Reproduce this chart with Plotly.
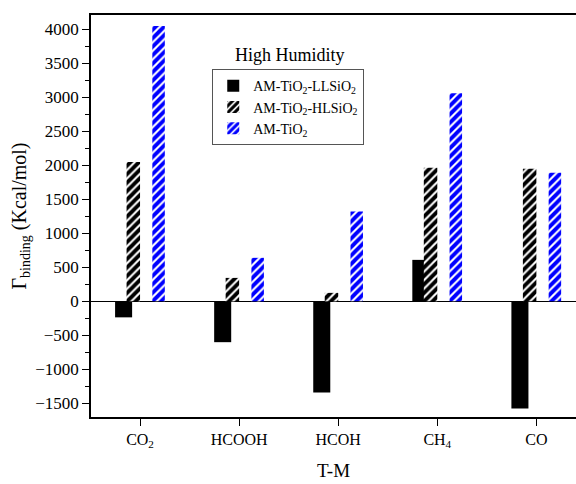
import plotly.graph_objects as go

categories = ["CO<sub>2</sub>", "HCOOH", "HCOH", "CH<sub>4</sub>", "CO"]
ll_sio2 = [-235, -600, -1340, 610, -1575]
hl_sio2 = [2050, 345, 125, 1965, 1950]
am_tio2 = [4050, 640, 1320, 3060, 1890]
names = ["AM-TiO<sub>2</sub>-LLSiO<sub>2</sub>",
         "AM-TiO<sub>2</sub>-HLSiO<sub>2</sub>",
         "AM-TiO<sub>2</sub>"]

xpos = list(range(len(categories)))
font = "Liberation Serif, Times New Roman, serif"

fig = go.Figure()
fig.add_trace(go.Bar(
    x=xpos, y=ll_sio2, name=names[0], offset=-0.252, width=0.172,
    marker=dict(color="black", opacity=1, line=dict(width=0)),
))
fig.add_trace(go.Bar(
    x=xpos, y=hl_sio2, name=names[1], offset=-0.136, width=0.136,
    marker=dict(color="white", opacity=1, line=dict(width=0),
                pattern=dict(shape="/", fgcolor="black", bgcolor="white",
                             fgopacity=1, size=6, solidity=0.65)),
))
fig.add_trace(go.Bar(
    x=xpos, y=am_tio2, name=names[2], offset=0.124, width=0.126,
    marker=dict(color="white", opacity=1, line=dict(width=0),
                pattern=dict(shape="/", fgcolor="#0000ff", bgcolor="white",
                             fgopacity=1, size=6, solidity=0.65)),
))

fig.update_layout(
    width=576, height=484,
    margin=dict(l=91, r=0, t=15, b=67),
    barmode="overlay",
    plot_bgcolor="white", paper_bgcolor="white",
    font=dict(family=font, size=16, color="black"),
    legend=dict(x=0.25, y=0.865, xanchor="left", yanchor="top",
                bordercolor="#555555", borderwidth=1, bgcolor="white",
                font=dict(size=14), tracegroupgap=0, itemsizing="constant"),
    annotations=[dict(text="High Humidity", x=0.41, y=0.87, xref="paper", yref="paper",
                      xanchor="center", yanchor="bottom", showarrow=False,
                      font=dict(size=18))],
)
fig.update_xaxes(
    range=[-0.495, 4.40], tickmode="array", tickvals=xpos, ticktext=categories,
    showline=True, linecolor="black", linewidth=1.5, mirror=True,
    ticks="outside", ticklen=7, tickcolor="black", showgrid=False,
    tickfont=dict(size=16),
    title=dict(text="T-M", font=dict(size=19), standoff=14),
)
fig.update_yaxes(
    range=[-1700, 4210], tickmode="linear", tick0=0, dtick=500,
    showline=True, linecolor="black", linewidth=1.5,
    ticks="outside", ticklen=7, tickcolor="black", showgrid=False,
    minor=dict(ticks="outside", ticklen=4, dtick=250, tickcolor="black", showgrid=False),
    zeroline=True, zerolinecolor="black", zerolinewidth=1,
    tickfont=dict(size=17),
    title=dict(text="Γ<sub>binding</sub> (Kcal/mol)", font=dict(size=20), standoff=3),
)

fig.write_html("out.html")
